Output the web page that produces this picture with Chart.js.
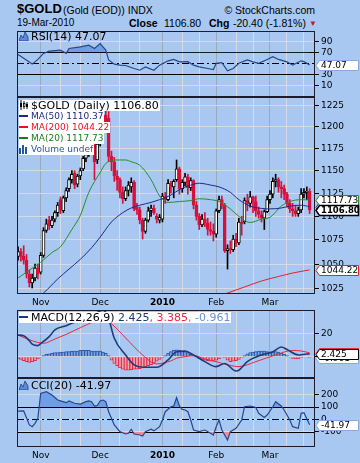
<!DOCTYPE html>
<html>
<head>
<meta charset="utf-8">
<title>$GOLD daily</title>
<script src="https://cdn.jsdelivr.net/npm/chart.js@4.4.1/dist/chart.umd.min.js"></script>
<style>
  html, body { margin: 0; padding: 0; }
  #page { position: relative; width: 360px; height: 463px; background: #a8c8f1; overflow: hidden;
          font-family: 'Liberation Sans', Arial, sans-serif; color: #000; }
  #page canvas { position: absolute; left: 17px; }
  .hd { position: absolute; white-space: nowrap; line-height: 12px; }
  .lg { position: absolute; left: 19px; height: 11px; line-height: 11px; white-space: nowrap;
        font-family: 'DejaVu Sans', sans-serif; font-size: 11px; padding-right: 1px; }
  .sm { font-size: 9px; }
  .wb { background: #fff; }
  .lg svg { vertical-align: top; margin-right: 2px; }
</style>
</head>
<body>
<div id="page">
  <div class="hd" style="left:17px; top:3px; font-size:13px; font-weight:bold;">$GOLD</div>
  <div class="hd" style="left:63px; top:4px; font-size:10.5px;">(Gold (EOD)) INDX</div>
  <div class="hd" style="right:45px; top:4px; font-size:10.5px;">© StockCharts.com</div>
  <div class="hd" style="left:17px; top:17px; font-size:10px;">19-Mar-2010</div>
  <div class="hd" style="left:129px; top:17px; font-size:10.5px; font-weight:bold;">Close</div>
  <div class="hd" style="left:164px; top:17px; font-size:10.5px;">1106.80</div>
  <div class="hd" style="left:209px; top:17px; font-size:10.5px; font-weight:bold;">Chg</div>
  <div class="hd" style="left:233px; top:17px; font-size:10.5px;">-20.40 (-1.81%)</div>
  <div class="hd" style="left:309px; top:18px; font-size:8px; color:#d0102a;">▼</div>

  <canvas id="rsi" width="343" height="66" style="top:31px"></canvas>
  <canvas id="price" width="343" height="212" style="top:97px"></canvas>
  <canvas id="macd" width="343" height="68" style="top:310px"></canvas>
  <canvas id="cci" width="343" height="85" style="top:378px"></canvas>

  <div class="lg" style="top:31px;"><svg width="10" height="10"><path d="M0 10L2 4L4 7L6 1L9 6L9 10Z" fill="#5a8ad8" stroke="#1f3f85" stroke-width="0.8"/></svg><span id="rsiLg"></span></div>

  <div class="lg wb" style="top:100px;"><svg width="10" height="10"><path d="M2 0V10M5 1V9M8 2V9" stroke="#000"/><rect x="1" y="3" width="2" height="4" fill="#000"/><rect x="4.5" y="3.5" width="1.5" height="3" fill="#fff" stroke="#000" stroke-width="0.8"/><rect x="7" y="4" width="2" height="3" fill="#000"/></svg><span id="priceLg"></span></div>
  <div class="lg wb sm" style="top:111px; color:#1c2a80;"><svg width="10" height="10"><rect x="0" y="4" width="9" height="2" fill="#1c2a80"/></svg><span id="ma50Lg"></span></div>
  <div class="lg wb sm" style="top:122px; color:#e6101e;"><svg width="10" height="10"><rect x="0" y="4" width="9" height="2" fill="#e6101e"/></svg><span id="ma200Lg"></span></div>
  <div class="lg wb sm" style="top:133px; color:#1e7a1e;"><svg width="10" height="10"><rect x="0" y="4" width="9" height="2" fill="#1e7a1e"/></svg><span id="ma20Lg"></span></div>
  <div class="lg wb sm" style="top:144px; color:#2456a8;"><svg width="10" height="10"><rect x="0" y="4" width="2" height="6" fill="#2456a8"/><rect x="3" y="1" width="2" height="9" fill="#2456a8"/><rect x="6" y="3" width="2" height="7" fill="#2456a8"/></svg>Volume undef</div>

  <div class="lg wb" style="top:312px;"><svg width="10" height="10"><rect x="0" y="4" width="9" height="2" fill="#1f3a7a"/></svg>MACD(12,26,9) <span id="macdLg" style="color:#1f3a7a"></span><span id="sigLg" style="color:#e8283c"></span><span id="histLg" style="color:#6a90d4"></span></div>

  <div class="lg" style="top:380px;"><svg width="10" height="10"><path d="M0 10L2 4L4 7L6 1L9 6L9 10Z" fill="#5a8ad8" stroke="#1f3f85" stroke-width="0.8"/></svg><span id="cciLg"></span></div>
</div>

<script>
// ---- axis labels ----
const months = ['Nov', 'Dec', '2010', 'Feb', 'Mar'];
const monthDays = [8, 29, 51, 70, 89];          // trading-day index of each month start
const minorDays = [15, 22, 36, 43, 58, 64, 77, 83, 95, 101];
const priceTicks = [1025, 1050, 1075, 1100, 1125, 1150, 1175, 1200, 1225];
const rsiTicks = [10, 30, 70, 90];
const macdTicks = [0, 20];
const cciTicks = [-100, 0, 100, 200];
const rsiLevels = [30, 50, 70];
const cciLevels = [-100, 0, 100];

// ---- daily candles (21-Oct-2009 .. 19-Mar-2010) ----
const opens = [1058,1063,1058,1054,1040,1031,1036,1046,1042,1059, 1085,1096,1090,1097,1104,1118,1106,1120,1130,1140,
  1147,1135,1144,1152,1164,1168,1187,1182,1162,1182, 1200,1214,1210,1166,1160,1144,1140,1126,1119,1128,
  1132,1137,1110,1107,1096,1084,1096,1106,1109,1100, 1096,1097,1121,1118,1136,1132,1140,1152,1130,1137,
  1143,1131,1139,1112,1100,1091,1097,1093,1086,1084, 1081,1106,1118,1112,1064,1066,1065,1076,1072,1094,
  1094,1117,1114,1121,1116,1106,1102,1098,1105,1118, 1124,1138,1140,1132,1130,1124,1114,1108,1106,1103,
  1107,1124,1126,1127.2];
const highs = [1068,1066,1069,1060,1044,1040,1050,1050,1062,1088, 1097,1100,1100,1106,1115,1121,1122,1131,1142,1150,
  1150,1146,1153,1166,1172,1190,1195,1186,1185,1202, 1218,1226,1218,1172,1165,1150,1142,1132,1132,1138,
  1142,1139,1114,1110,1098,1098,1110,1112,1112,1103, 1102,1125,1126,1140,1138,1140,1162,1154,1140,1147,
  1146,1142,1140,1116,1103,1102,1104,1098,1094,1092, 1108,1122,1122,1114,1070,1074,1080,1082,1098,1100,
  1120,1124,1127,1122,1122,1110,1106,1107,1122,1128, 1142,1146,1142,1138,1134,1126,1118,1114,1112,1110,
  1130,1130,1132,1130];
const lows = [1054,1053,1050,1036,1027,1026,1033,1035,1040,1057, 1083,1086,1088,1094,1100,1103,1104,1116,1127,1136,
  1130,1132,1140,1150,1160,1166,1178,1140,1158,1178, 1196,1200,1160,1150,1138,1128,1120,1114,1117,1122,
  1126,1106,1102,1092,1076,1082,1094,1100,1102,1093, 1093,1094,1114,1117,1125,1120,1138,1124,1126,1133,
  1124,1128,1108,1096,1086,1089,1089,1080,1080,1074, 1078,1104,1108,1062,1045,1061,1063,1068,1070,1080,
  1092,1106,1110,1104,1100,1098,1094,1086,1104,1114, 1120,1132,1126,1120,1118,1110,1104,1100,1100,1100,
  1104,1120,1118,1103];
const closes = [1063,1058,1054,1040,1031,1036,1046,1040,1059,1085, 1092,1090,1096,1104,1112,1107,1120,1128,1140,1146,
  1134,1144,1150,1164,1168,1187,1182,1160,1180,1199, 1214,1206,1166,1160,1144,1140,1126,1119,1128,1134,
  1137,1108,1107,1096,1084,1096,1106,1109,1104,1097, 1099,1122,1118,1136,1132,1138,1152,1130,1137,1143,
  1131,1139,1112,1100,1091,1097,1093,1086,1084,1081, 1106,1118,1112,1064,1066,1065,1076,1072,1094,1092,
  1117,1114,1121,1116,1106,1102,1098,1105,1118,1124, 1138,1140,1132,1130,1124,1114,1108,1106,1103,1107,
  1124,1126,1127.2,1106.8];

// ---- moving averages (read at sample days) ----
const ma20Days = [0, 4, 8, 12, 15, 19, 22, 25, 29, 31, 35, 38, 40, 43, 47, 50, 53, 57, 61, 64, 68, 71, 75, 78, 82, 86, 89, 93, 96, 100, 103];
const ma20Vals = [1036, 1044, 1052, 1062, 1068, 1086, 1101, 1126, 1148, 1158, 1162, 1162, 1160, 1156, 1140, 1122, 1115, 1116, 1117, 1119, 1118, 1116, 1108, 1100, 1093.5, 1097, 1099, 1111, 1116, 1118, 1117.73];
const ma50Days = [6, 9, 14, 18, 22, 26, 29, 33, 37, 40, 43, 47, 50, 54, 57, 61, 64, 68, 71, 75, 78, 82, 86, 89, 93, 96, 100, 103];
const ma50Vals = [1015, 1021, 1035, 1045, 1055, 1067, 1078, 1094, 1104, 1109, 1112, 1115, 1118, 1123, 1129, 1134, 1136, 1134, 1132, 1126, 1118, 1111, 1108.5, 1108, 1109, 1111, 1112, 1110.37];
const ma200Days = [72, 80, 86, 92, 97, 103];
const ma200Vals = [1019, 1027, 1033, 1037.5, 1041, 1044.22];

// ---- RSI(14) ----
const rsiDays = [0, 2, 5, 7, 9, 11, 15, 17, 18, 22, 25, 27, 29, 30, 31, 32, 34, 36, 38, 41, 43, 45, 48, 50, 53, 55, 57, 60, 62, 64, 67, 69, 70, 72, 74, 76, 78, 81, 83, 85, 88, 90, 92, 95, 97, 100, 101, 103];
const rsiVals = [66, 59, 48.5, 57, 68, 72, 74, 68, 77, 80, 83, 77, 86, 80, 74, 56, 48.5, 46.6, 46, 40.5, 37.4, 43.5, 37.4, 46.6, 54.5, 57, 52.7, 53, 46.6, 43.5, 40.5, 38.6, 50, 51, 36.2, 40.5, 50, 56, 52.7, 50, 57, 62, 57, 52.7, 46.6, 54.5, 53, 47.07];

// ---- MACD(12,26,9) ----
const macdDays = [0, 2, 4, 5, 7, 8, 11, 13, 17, 19, 22, 25, 28, 30, 31, 32, 34, 38, 41, 44, 49, 53, 56, 59, 62, 66, 70, 73, 77, 78, 81, 86, 90, 93, 95, 99, 102, 103];
const macdVals = [19, 18.5, 14, 11, 9.7, 11.5, 17.6, 23.5, 27.3, 29.4, 32, 35.5, 39, 41, 39, 33.8, 16.2, 1.5, -7.3, -9.3, -9.3, -2.9, 4.4, 4.9, 1.5, -4.4, -8.8, -6, -12.6, -12, -4.4, 1.5, 4.4, 8.5, 6.3, 1.5, 2.4, 2.425];
const signalDays = [0, 5, 9, 13, 17, 22, 27, 31, 33, 38, 44, 49, 54, 56, 59, 62, 66, 70, 73, 78, 84, 91, 97, 100, 103];
const signalVals = [19, 14, 11.8, 15.5, 19.6, 25.5, 30.8, 32, 29, 16.5, 1.5, -6.4, -3.7, -1.4, 0, 1, -2, -4.4, -6.5, -8.8, -4.4, 1.5, 5.5, 5, 3.385];
const histVals = [-1.5, -2.5, -3.5, -4.5, -5, -4.5, -3.5, -2, -0.5,
  1, 2, 2.5, 3, 3.5, 3.5, 4, 4, 4.5, 4.5, 5, 5, 5, 5.5, 5.5, 5.5, 5.5, 5, 5, 5, 5, 4, 3, 1,
  -3, -6, -8, -10, -11, -12, -12, -11.5, -11, -11, -10.5, -10, -9, -8, -7, -5.5, -4, -2.5, -1,
  1, 3, 4.5, 5.5, 6, 5.5, 5, 4.5, 3.5, 2, 1,
  -0.5, -1.5, -2.5, -3, -3.5, -4, -4, -3, -2, -0.5, -1, -3, -4.5, -4, -3.5, -2.5, -1,
  1, 2.5, 3.5, 4, 4.5, 5, 5, 5, 4.5, 4, 4, 4.5, 4, 3, 2, 1,
  -0.5, -1.5, -2, -2, -1, -0.5, -0.5, -0.961];

// ---- CCI(20) ----
const cciDays = [0, 2, 4, 5, 6, 7, 8, 10, 12, 14, 15, 17, 18, 20, 22, 24, 25, 26, 27, 28, 29, 30, 31, 32, 34, 36, 38, 39, 40, 41, 43, 44, 45, 47, 48, 50, 51, 52, 54, 55, 56, 57, 58, 59, 60, 61, 62, 64, 66, 68, 69, 70, 71, 72, 74, 75, 77, 79, 80, 82, 84, 85, 87, 88, 90, 91, 93, 94, 96, 97, 99, 100, 101, 103];
const cciVals = [68, 69, -44, -58, -31, 10, 211, 224, 198, 157, 150, 136, 150, 131, 125, 144, 150, 144, 109, 113, 150, 157, 144, 63, -44, -98, -117, -111, -79, -117, -125, -133, -98, -79, -92, -58, -4, 63, 103, 109, 176, 109, 82, 77, 63, -4, -85, -98, -85, -111, -125, -58, -4, -85, -165, -98, -71, -4, 103, 109, 97, 50, 17, 36, 103, 144, 109, 77, -4, -58, -71, 50, 55, -41.97];

// ---- helpers ----
const xMin = -0.37, xMax = 104.9;
const gridDays = monthDays.concat(minorDays).sort((a, b) => a - b);
const yearTick = monthDays[months.indexOf('2010')];
const last = a => a[a.length - 1];
const pts = (days, vals) => days.map((d, k) => ({ x: d, y: vals[k] }));
const daily = vals => vals.map((v, i) => ({ x: i, y: v }));
const FONT = 'DejaVu Sans';

function base(scales) {
  return {
    responsive: false, animation: false, events: [],
    layout: { padding: 0 },
    plugins: { legend: { display: false }, tooltip: { enabled: false } },
    scales
  };
}

function xAxis(showLabels, labelHeight) {
  return {
    type: 'linear', min: xMin, max: xMax, offset: false,
    afterBuildTicks: s => { s.ticks = gridDays.map(v => ({ value: v })); },
    afterFit: s => { s.height = showLabels ? labelHeight : 0; s.paddingLeft = 0; s.paddingRight = 0; },
    grid: {
      color: c => (c.tick && monthDays.includes(c.tick.value)) ? '#9ca8bd' : '#d5dae4',
      drawTicks: false, offset: false
    },
    border: { display: false },
    ticks: {
      display: showLabels, autoSkip: false, maxRotation: 0, padding: 3, color: '#000',
      callback: v => { const k = monthDays.indexOf(v); return k < 0 ? '' : months[k]; },
      font: c => ({ family: FONT, size: 9, weight: (c.tick && c.tick.value === yearTick) ? 'bold' : 'normal' })
    }
  };
}

function yAxis(o) {
  return {
    type: o.type || 'linear', position: 'right', min: o.min, max: o.max,
    afterBuildTicks: s => { s.ticks = o.ticks.map(v => ({ value: v })); },
    afterFit: s => { s.width = 45; s.paddingTop = 0; s.paddingBottom = 0; },
    grid: { color: '#d5dae4', tickColor: '#000', tickLength: 4, drawTicks: true },
    border: { display: false },
    ticks: { color: '#000', padding: 2, autoSkip: false, font: { family: FONT, size: 9 }, callback: v => String(v) }
  };
}

const frame = {
  id: 'frame',
  afterDraw(chart) {
    const { ctx, chartArea: a } = chart;
    ctx.save();
    ctx.strokeStyle = '#1c1c2c';
    ctx.lineWidth = 1;
    ctx.strokeRect(a.left + 0.5, a.top + 0.5, a.width - 1, a.height - 1);
    ctx.restore();
  }
};

function levels(solid, dashed) {
  return {
    id: 'levels',
    beforeDatasetsDraw(chart) {
      const { ctx, chartArea: a } = chart, y = chart.scales.y;
      ctx.save();
      ctx.strokeStyle = '#000';
      ctx.lineWidth = 1;
      const draw = (v, dash) => {
        const py = Math.round(y.getPixelForValue(v)) + 0.5;
        ctx.setLineDash(dash);
        ctx.beginPath(); ctx.moveTo(a.left, py); ctx.lineTo(a.right, py); ctx.stroke();
      };
      solid.forEach(v => draw(v, []));
      dashed.forEach(v => draw(v, [7, 3, 2, 3]));
      ctx.restore();
    }
  };
}

// value boxes on the right axis, drawn in list order
function tags(items) {
  return {
    id: 'tags',
    afterDraw(chart) {
      const { ctx, chartArea: a } = chart, y = chart.scales.y;
      items.forEach(t => {
        const py = Math.round(y.getPixelForValue(t.value)) + 0.5;
        const xl = a.right + 1, xb = a.right + 4.5, xr = chart.width - 1.5;
        ctx.save();
        ctx.beginPath();
        ctx.moveTo(xl, py);
        ctx.lineTo(xb, py - 5); ctx.lineTo(xr, py - 5); ctx.lineTo(xr, py + 5); ctx.lineTo(xb, py + 5);
        ctx.closePath();
        ctx.fillStyle = '#fff';
        ctx.fill();
        ctx.strokeStyle = t.color;
        ctx.lineWidth = t.bold ? 1.5 : 1;
        ctx.stroke();
        ctx.fillStyle = '#000';
        ctx.font = (t.bold ? 'bold 8.5px "' : '9px "') + FONT + '"';
        ctx.textBaseline = 'middle';
        ctx.fillText(t.value.toFixed(t.digits || 2), xb + 1.5, py + 0.5);
        ctx.restore();
      });
    }
  };
}

// ---- legends text ----
document.getElementById('rsiLg').textContent = 'RSI(14) ' + last(rsiVals).toFixed(2);
document.getElementById('priceLg').textContent = '$GOLD (Daily) ' + last(closes).toFixed(2);
document.getElementById('ma50Lg').textContent = 'MA(50) ' + last(ma50Vals).toFixed(2);
document.getElementById('ma200Lg').textContent = 'MA(200) ' + last(ma200Vals).toFixed(2);
document.getElementById('ma20Lg').textContent = 'MA(20) ' + last(ma20Vals).toFixed(2);
document.getElementById('macdLg').textContent = last(macdVals).toFixed(3);
document.getElementById('sigLg').textContent = ', ' + last(signalVals).toFixed(3);
document.getElementById('histLg').textContent = ', ' + last(histVals).toFixed(3);
document.getElementById('cciLg').textContent = 'CCI(20) ' + last(cciVals).toFixed(2);

// ---- RSI panel ----
new Chart(document.getElementById('rsi'), {
  type: 'line',
  data: {
    datasets: [{
      data: pts(rsiDays, rsiVals),
      borderColor: '#24488c', borderWidth: 1.2, pointRadius: 0, tension: 0,
      fill: { target: { value: rsiLevels[2] }, above: '#6f9de6', below: 'rgba(0,0,0,0)' }
    }]
  },
  options: base({ x: xAxis(false), y: yAxis({ min: -11.3, max: 108.7, ticks: rsiTicks }) }),
  plugins: [levels([rsiLevels[0], rsiLevels[2]], [rsiLevels[1]]), frame,
            tags([{ value: last(rsiVals), color: '#86a8dc' }])]
});

// ---- price panel ----
const up = i => closes[i] >= opens[i];
const RED = '#d8103c';
new Chart(document.getElementById('price'), {
  type: 'line',
  data: {
    datasets: [
      { type: 'line', data: pts(ma200Days, ma200Vals), borderColor: '#e8202a', borderWidth: 1, pointRadius: 0, cubicInterpolationMode: 'monotone', order: 0 },
      { type: 'line', data: pts(ma50Days, ma50Vals), borderColor: '#1c2a8c', borderWidth: 1, pointRadius: 0, cubicInterpolationMode: 'monotone', order: 0 },
      { type: 'line', data: pts(ma20Days, ma20Vals), borderColor: '#2a8a2a', borderWidth: 1, pointRadius: 0, cubicInterpolationMode: 'monotone', order: 0 },
      {
        type: 'bar', order: 1, grouped: false, barThickness: 3, borderWidth: 1, borderSkipped: false,
        data: opens.map((o, i) => ({ x: i, y: [o, closes[i]] })),
        backgroundColor: c => up(c.dataIndex) ? '#fff' : RED,
        borderColor: c => up(c.dataIndex) ? '#000' : RED
      },
      {
        type: 'bar', order: 2, grouped: false, barThickness: 1,
        data: lows.map((l, i) => ({ x: i, y: [l, highs[i]] })),
        backgroundColor: c => up(c.dataIndex) ? '#000' : RED
      }
    ]
  },
  options: base({
    x: xAxis(true, 15),
    y: yAxis({ type: 'logarithmic', min: 1020, max: 1235.4, ticks: priceTicks })
  }),
  plugins: [frame, tags([
    { value: last(ma200Vals), color: '#e8202a' },
    { value: last(ma50Vals), color: '#1c2a8c' },
    { value: last(ma20Vals), color: '#2a8a2a' },
    { value: last(closes), color: '#000', bold: true }
  ])]
});

// ---- MACD panel ----
new Chart(document.getElementById('macd'), {
  type: 'line',
  data: {
    datasets: [
      { type: 'line', data: pts(macdDays, macdVals), borderColor: '#1f3a7a', borderWidth: 1.6, pointRadius: 0, cubicInterpolationMode: 'monotone', order: 0 },
      { type: 'line', data: pts(signalDays, signalVals), borderColor: '#e8283c', borderWidth: 1, pointRadius: 0, cubicInterpolationMode: 'monotone', order: 1 },
      {
        type: 'bar', order: 2, grouped: false, barThickness: 3, borderWidth: 1, borderSkipped: 'start',
        data: daily(histVals),
        backgroundColor: c => (c.raw && c.raw.y >= 0) ? '#7ba3e6' : '#f5a3b0',
        borderColor: c => (c.raw && c.raw.y >= 0) ? '#2f5aa8' : '#d8304a'
      }
    ]
  },
  options: base({ x: xAxis(false), y: yAxis({ min: -18.8, max: 41.1, ticks: macdTicks }) }),
  plugins: [frame, tags([
    { value: last(histVals), color: '#86a8dc', digits: 3 },
    { value: last(signalVals), color: '#e8283c', digits: 3 },
    { value: last(macdVals), color: '#000', digits: 3 }
  ])]
});

// ---- CCI panel ----
new Chart(document.getElementById('cci'), {
  type: 'line',
  data: {
    datasets: [
      {
        data: pts(cciDays, cciVals), borderColor: '#24488c', borderWidth: 1.2, pointRadius: 0, tension: 0, order: 0,
        fill: { target: { value: cciLevels[2] }, above: '#6f9de6', below: 'rgba(0,0,0,0)' }
      },
      {
        data: pts(cciDays, cciVals), borderWidth: 0, pointRadius: 0, tension: 0, order: 1,
        fill: { target: { value: cciLevels[0] }, above: 'rgba(0,0,0,0)', below: '#f08a9c' }
      }
    ]
  },
  options: base({ x: xAxis(true, 16), y: yAxis({ min: -222, max: 335, ticks: cciTicks }) }),
  plugins: [levels([cciLevels[0], cciLevels[2]], [cciLevels[1]]), frame,
            tags([{ value: last(cciVals), color: '#86a8dc' }])]
});
</script>
</body>
</html>
